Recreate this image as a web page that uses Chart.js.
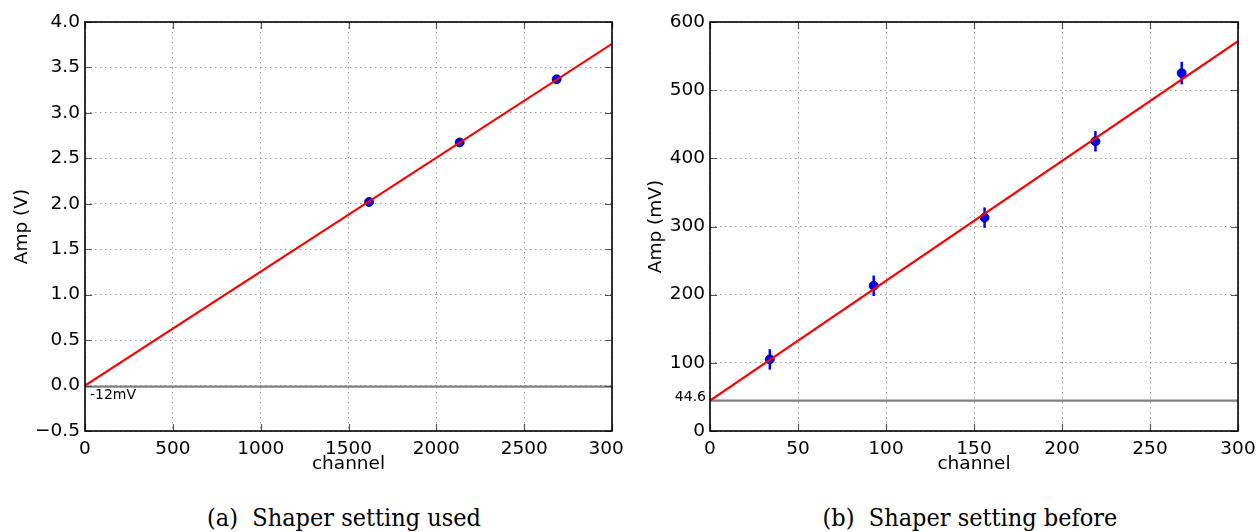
<!DOCTYPE html>
<html><head><meta charset="utf-8">
<script src="https://cdn.jsdelivr.net/npm/chart.js@4/dist/chart.umd.min.js"></script>
<style>
html,body{margin:0;padding:0;background:#fff;width:1257px;height:532px;overflow:hidden;position:relative;}
#wa{position:absolute;left:0;top:0;width:624px;height:480px;overflow:hidden;}
#ca{position:absolute;left:0;top:0;}
#cb{position:absolute;left:630px;top:0;}
.cap{position:absolute;top:503px;font-family:"DejaVu Serif Condensed","DejaVu Serif",serif;font-size:25px;line-height:29px;white-space:pre;transform:translateX(-50%);color:#000;}
</style></head><body>
<div id="wa"><canvas id="ca" width="660" height="480"></canvas></div>
<canvas id="cb" width="640" height="480"></canvas>
<div class="cap" style="left:344px">(a)  Shaper setting used</div>
<div class="cap" style="left:970px">(b)  Shaper setting before</div>
<script>
// ---- Data: panel (a) ----
const channelA = [1617, 2133, 2685];
const ampA = [2.02, 2.675, 3.37];
const fitChannelA = [0, 3000];
const fitAmpA = [0, 3.76];
const offsetLineA = -0.012;
const offsetLabelA = '-12mV';
const xTicksA = [0, 500, 1000, 1500, 2000, 2500, 3000];
const xTickLabelsA = ['0', '500', '1000', '1500', '2000', '2500', '3000'];
const yTicksA = [-0.5, 0, 0.5, 1.0, 1.5, 2.0, 2.5, 3.0, 3.5, 4.0];
const yTickLabelsA = ['\u22120.5', '0.0', '0.5', '1.0', '1.5', '2.0', '2.5', '3.0', '3.5', '4.0'];

// ---- Data: panel (b) ----
const channelB = [34, 93, 156, 219, 268];
const ampB = [105, 213, 313, 425, 525];
const errB = [15, 15, 15, 15, 16.5];
const fitChannelB = [0, 300];
const fitAmpB = [44.6, 572];
const offsetLineB = 44.6;
const offsetLabelB = '44.6';
const xTicksB = [0, 50, 100, 150, 200, 250, 300];
const xTickLabelsB = ['0', '50', '100', '150', '200', '250', '300'];
const yTicksB = [0, 100, 200, 300, 400, 500, 600];
const yTickLabelsB = ['0', '100', '200', '300', '400', '500', '600'];

const FONT = 'DejaVu Sans';
const FS = 18.5;

const decor = {
  id: 'decor',
  beforeDatasetsDraw(chart, args, o) {
    const {ctx, scales: {x, y}} = chart;
    if (o.err) {
      ctx.save();
      ctx.strokeStyle = '#0000ff';
      ctx.lineWidth = 2.5;
      o.xs.forEach((cx, i) => {
        const px = x.getPixelForValue(cx);
        ctx.beginPath();
        ctx.moveTo(px, y.getPixelForValue(o.ys[i] - o.err[i]));
        ctx.lineTo(px, y.getPixelForValue(o.ys[i] + o.err[i]));
        ctx.stroke();
      });
      ctx.restore();
    }
  },
  afterDraw(chart, args, o) {
    const {ctx, chartArea: a, scales: {x, y}} = chart;
    ctx.save();
    ctx.strokeStyle = '#555';
    ctx.lineWidth = 1.2;
    const L = 7;
    x.ticks.forEach(t => {
      const px = Math.round(x.getPixelForValue(t.value)) + 0.5;
      ctx.beginPath();
      ctx.moveTo(px, a.bottom); ctx.lineTo(px, a.bottom - L);
      ctx.moveTo(px, a.top); ctx.lineTo(px, a.top + L);
      ctx.stroke();
    });
    y.ticks.forEach(t => {
      const py = Math.round(y.getPixelForValue(t.value)) + 0.5;
      ctx.beginPath();
      ctx.moveTo(a.left, py); ctx.lineTo(a.left + L, py);
      ctx.moveTo(a.right, py); ctx.lineTo(a.right - L, py);
      ctx.stroke();
    });
    ctx.strokeStyle = '#000';
    ctx.lineWidth = 1.6;
    ctx.strokeRect(a.left, a.top, a.right - a.left, a.bottom - a.top);
    ctx.fillStyle = '#000';
    ctx.font = '14px "' + FONT + '"';
    ctx.textBaseline = 'middle';
    const ly = y.getPixelForValue(o.labelY);
    const lx = x.getPixelForValue(o.labelX);
    if (o.labelSide === 'below') {
      ctx.textAlign = 'left';
      ctx.fillText(o.label, lx + 5, ly + 9);
    } else {
      ctx.textAlign = 'right';
      ctx.fillText(o.label, lx - 4, ly - 3);
    }
    ctx.restore();
  }
};

function makeChart(id, cfg) {
  const tickFont = {family: FONT, size: FS};
  return new Chart(document.getElementById(id), {
    type: 'scatter',
    data: {
      datasets: [
        {data: cfg.fitX.map((v, i) => ({x: v, y: cfg.fitY[i]})), showLine: true,
         borderColor: '#ff0000', borderWidth: 2.2, pointRadius: 0, order: 0},
        {data: cfg.px.map((v, i) => ({x: v, y: cfg.py[i]})), showLine: false,
         pointRadius: 4.5, pointBackgroundColor: '#0000ff', pointBorderColor: '#000033',
         pointBorderWidth: 0.8, order: 1},
        {data: [{x: cfg.xTicks[0], y: cfg.offset}, {x: cfg.xTicks[cfg.xTicks.length - 1], y: cfg.offset}],
         showLine: true, borderColor: '#808080', borderWidth: 2.2, pointRadius: 0, order: 2}
      ]
    },
    options: {
      responsive: false,
      animation: false,
      events: [],
      layout: {autoPadding: false, padding: cfg.padding},
      plugins: {legend: {display: false}, tooltip: {enabled: false},
        decor: cfg.decor},
      scales: {
        x: {
          type: 'linear', min: cfg.xTicks[0], max: cfg.xTicks[cfg.xTicks.length - 1],
          afterBuildTicks: s => { s.ticks = cfg.xTicks.map(v => ({value: v})); },
          afterFit: s => { s.height = cfg.xH; },
          ticks: {font: tickFont, color: '#000', padding: 7, maxRotation: 0, autoSkip: false,
            callback: (v, i) => cfg.xLabels[i]},
          grid: {color: '#9a9a9a', lineWidth: 1, drawTicks: false, tickLength: 0},
          border: {display: false, dash: [1.5, 3.5]},
          title: {display: true, text: 'channel', font: tickFont, color: '#000', padding: 0}
        },
        y: {
          type: 'linear', min: cfg.yTicks[0], max: cfg.yTicks[cfg.yTicks.length - 1],
          afterBuildTicks: s => { s.ticks = cfg.yTicks.map(v => ({value: v})); },
          afterFit: s => { s.width = cfg.yW; },
          ticks: {font: tickFont, color: '#000', padding: 5, autoSkip: false,
            callback: (v, i) => cfg.yLabels[i]},
          grid: {color: '#9a9a9a', lineWidth: 1, drawTicks: false, tickLength: 0},
          border: {display: false, dash: [1.5, 3.5]},
          title: {display: true, text: cfg.yTitle, font: tickFont, color: '#000', padding: 0}
        }
      }
    },
    plugins: [decor]
  });
}

makeChart('ca', {
  fitX: fitChannelA, fitY: fitAmpA, px: channelA, py: ampA, offset: offsetLineA,
  xTicks: xTicksA, xLabels: xTickLabelsA, yTicks: yTicksA, yLabels: yTickLabelsA,
  yTitle: 'Amp (V)', padding: {left: 11, top: 22, right: 48, bottom: 5}, xH: 44, yW: 74,
  decor: {label: offsetLabelA, labelX: xTicksA[0], labelY: offsetLineA, labelSide: 'below'}
});
makeChart('cb', {
  fitX: fitChannelB, fitY: fitAmpB, px: channelB, py: ampB, offset: offsetLineB,
  xTicks: xTicksB, xLabels: xTickLabelsB, yTicks: yTicksB, yLabels: yTickLabelsB,
  yTitle: 'Amp (mV)', padding: {left: 15, top: 22, right: 32, bottom: 5}, xH: 44, yW: 65,
  decor: {label: offsetLabelB, labelX: xTicksB[0], labelY: offsetLineB, labelSide: 'left',
    err: errB, xs: channelB, ys: ampB}
});
</script>
</body></html>
